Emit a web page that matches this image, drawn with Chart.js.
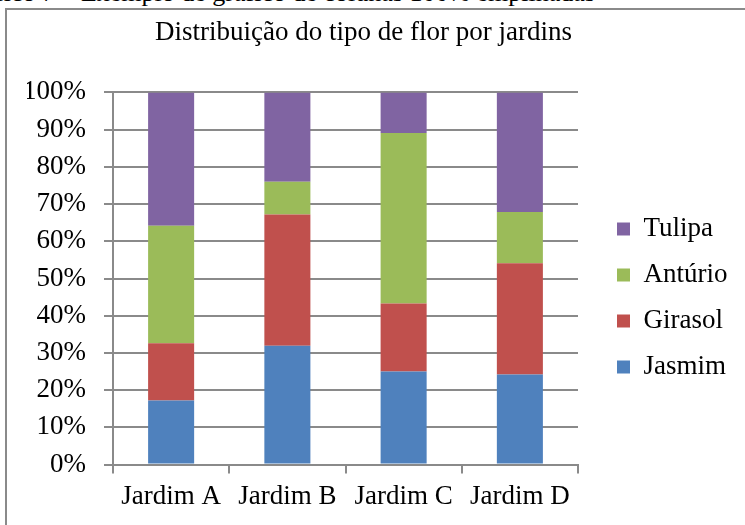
<!DOCTYPE html>
<html>
<head>
<meta charset="utf-8">
<script src="https://cdn.jsdelivr.net/npm/chart.js@4/dist/chart.umd.min.js"></script>
<style>
  html, body { margin: 0; padding: 0; background: #fff; overflow: hidden; width: 745px; height: 525px; }
  #caption {
    position: absolute; right: 150px; top: -20px;
    font: 26px "Liberation Serif", "Times New Roman", serif; line-height: 26px;
    white-space: nowrap; color: #000;
  }
  #frame {
    position: absolute; left: 5px; top: 8px; width: 760px; height: 540px;
    border-left: 2px solid #8a8a8a; border-top: 2px solid #8a8a8a;
    box-sizing: border-box;
  }
  #wrap { position: absolute; left: 7px; top: 10px; width: 738px; height: 515px; }
</style>
</head>
<body>
<div id="caption">Gráfico 7 – Exemplo de gráfico de colunas 100% empilhadas</div>
<div id="frame"></div>
<div id="wrap"><canvas id="c" width="738" height="515"></canvas></div>
<script>
// Share of each flower type per garden (percent)
const jardins = ['Jardim A', 'Jardim B', 'Jardim C', 'Jardim D'];
const jasmim  = [17.2, 31.9, 25.0, 24.2];
const girasol = [15.4, 35.3, 18.3, 29.9];
const anturio = [31.6,  8.8, 45.8, 13.8];
const tulipa  = [35.8, 24.0, 10.9, 32.1];
const yTicks  = [0, 10, 20, 30, 40, 50, 60, 70, 80, 90, 100];

const serif = "'Liberation Serif', 'Times New Roman', serif";
const gridGray = '#8a8a8a';
const fontSize = 27;

// Moves the legend column a little away from the plot area and lets it
// use the space up to the canvas edge
const legendGap = {
  id: 'legendGap',
  afterLayout(chart) {
    const l = chart.legend;
    if (!l) return;
    l.left += 20;
    l.right = chart.width;
    l.width = l.right - l.left;
    l.top += 33; l.bottom += 33;
  }
};

new Chart(document.getElementById('c'), {
  type: 'bar',
  data: {
    labels: jardins,
    datasets: [
      { label: 'Jasmim',  data: jasmim,  backgroundColor: '#4F81BD' },
      { label: 'Girasol', data: girasol, backgroundColor: '#C0504D' },
      { label: 'Antúrio', data: anturio, backgroundColor: '#9BBB59' },
      { label: 'Tulipa',  data: tulipa,  backgroundColor: '#8064A2' }
    ]
  },
  options: {
    responsive: false,
    animation: false,
    devicePixelRatio: 1,
    layout: { padding: { left: 20, right: 45, top: 0, bottom: 5 } },
    datasets: { bar: { categoryPercentage: 1, barPercentage: 0.396 } },
    plugins: {
      title: {
        display: true,
        text: 'Distribuição do tipo de flor por jardins',
        color: '#000',
        font: { family: serif, size: fontSize, weight: 'normal' },
        padding: { top: 7, bottom: 43 }
      },
      legend: {
        position: 'right',
        reverse: true,
        maxWidth: 122,
        labels: {
          color: '#000',
          font: { family: serif, size: fontSize },
          boxWidth: 13, boxHeight: 13, padding: 19
        }
      },
      tooltip: { enabled: false }
    },
    scales: {
      x: {
        stacked: true,
        border: { display: true, color: gridGray, width: 2 },
        grid: { offset: true, drawOnChartArea: false, drawTicks: true, tickLength: 9, color: gridGray, lineWidth: 2 },
        ticks: { color: '#000', font: { family: serif, size: fontSize }, padding: 7, maxRotation: 0 }
      },
      y: {
        stacked: true,
        min: 0, max: 100,
        afterBuildTicks(scale) { scale.ticks = yTicks.map(v => ({ value: v })); },
        afterFit(scale) { scale.width = 86; },
        border: { display: true, color: gridGray, width: 2 },
        grid: { color: gridGray, lineWidth: 2, tickLength: 9 },
        ticks: { color: '#000', font: { family: serif, size: fontSize }, padding: 18, callback: v => v + '%' }
      }
    }
  },
  plugins: [legendGap]
});
</script>
</body>
</html>
